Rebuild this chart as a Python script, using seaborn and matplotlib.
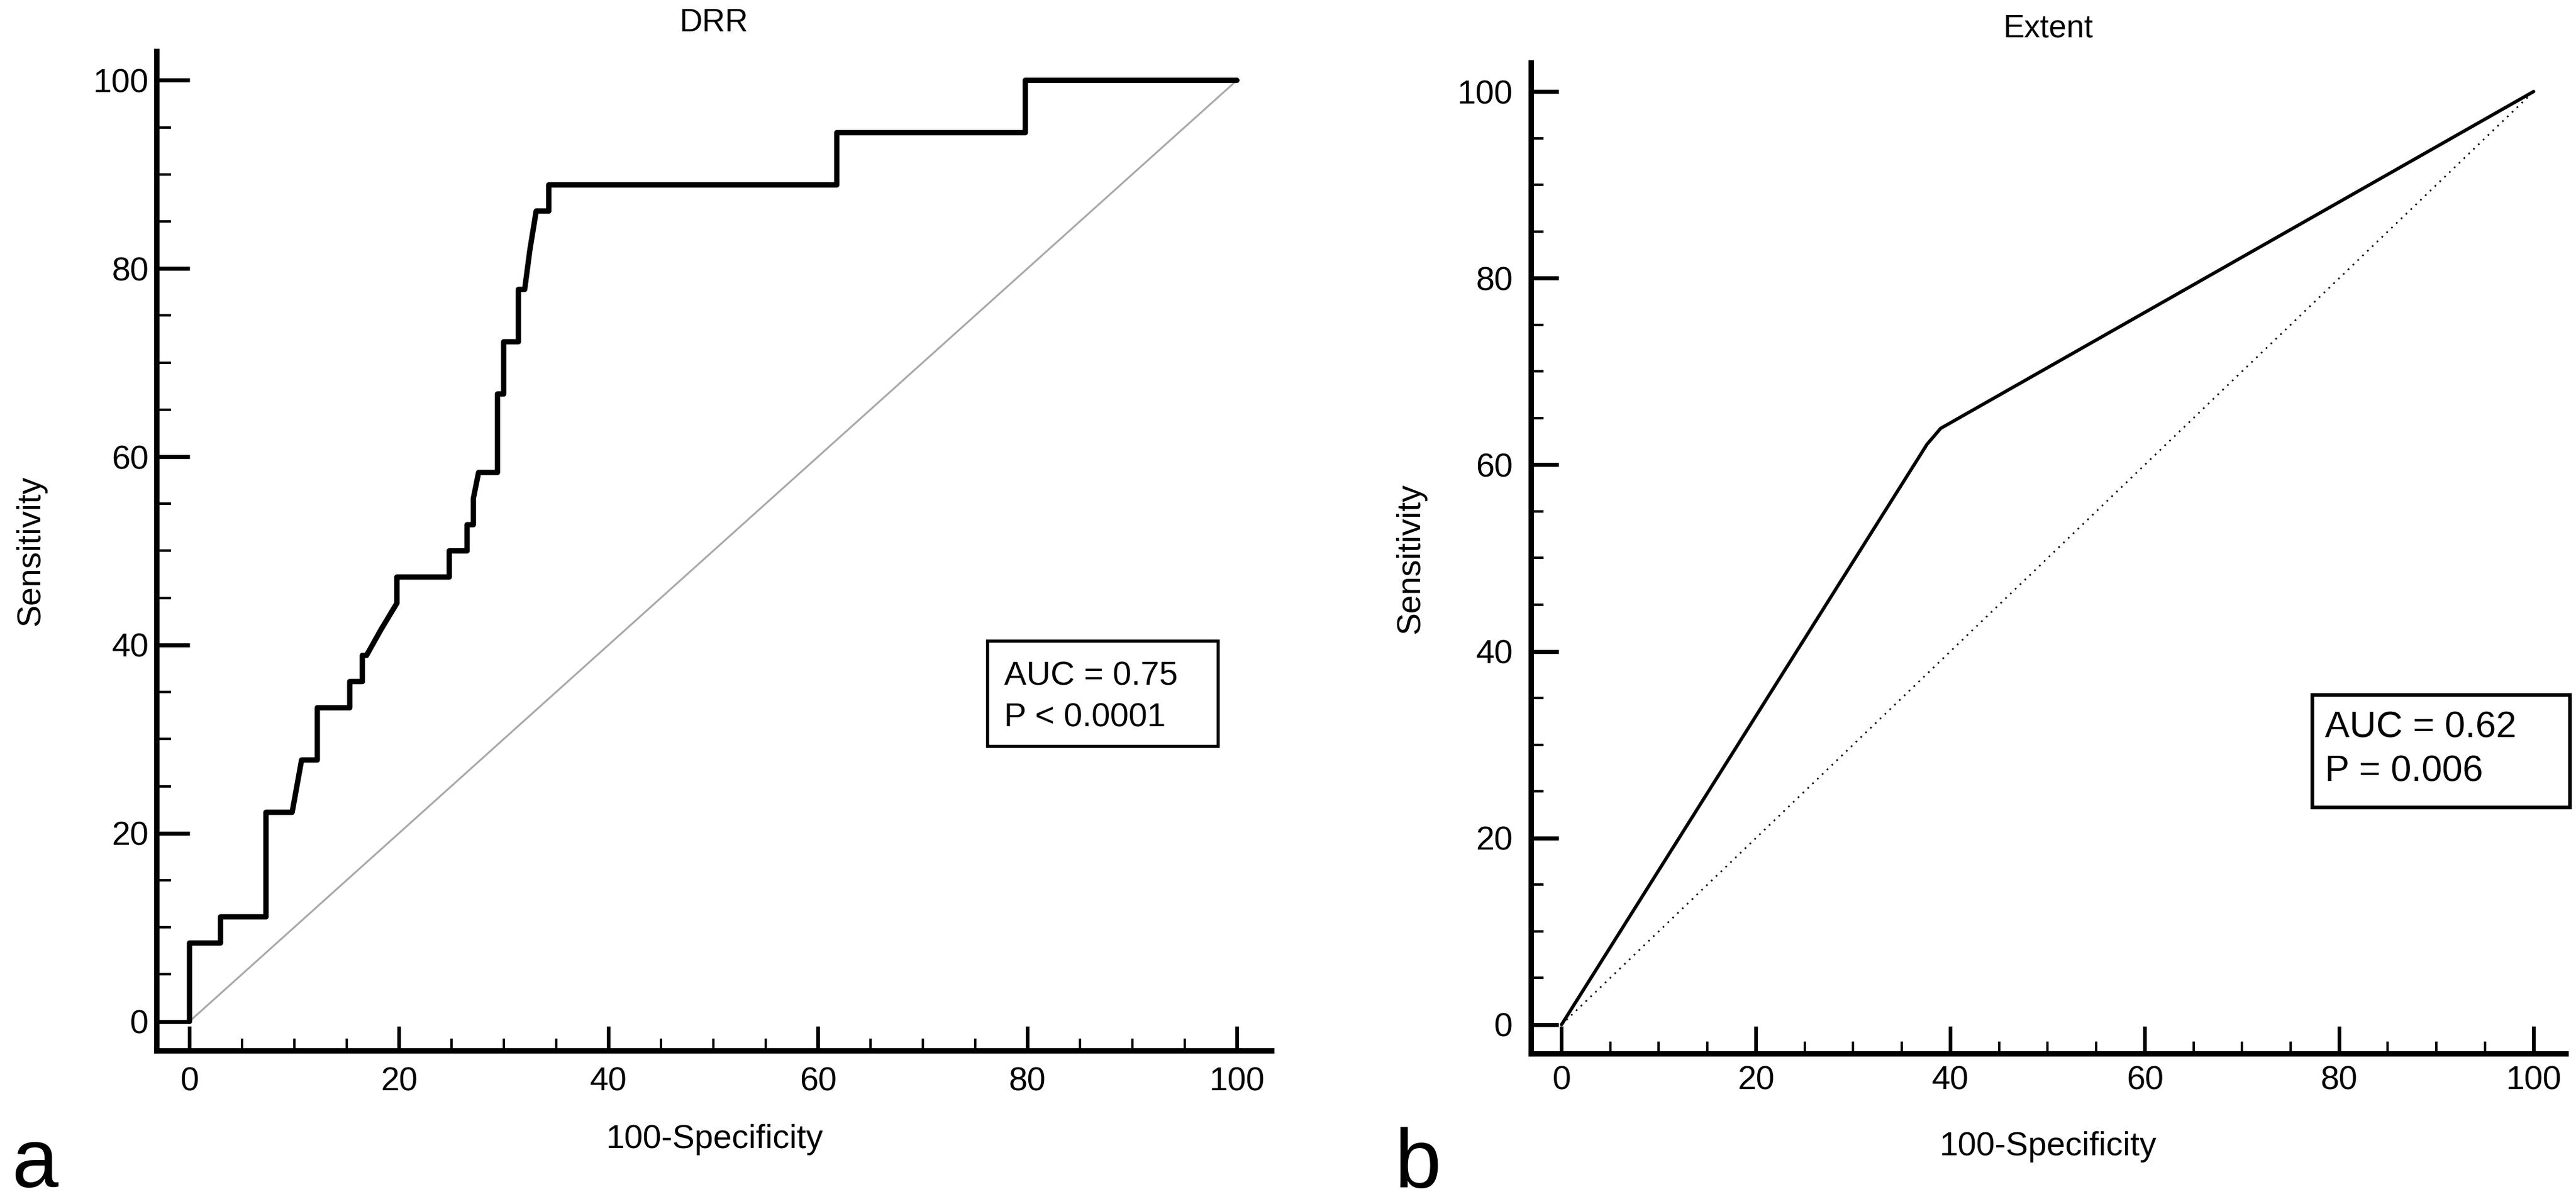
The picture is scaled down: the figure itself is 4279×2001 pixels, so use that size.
import matplotlib
matplotlib.use("Agg")
import matplotlib.pyplot as plt
from matplotlib.patches import Rectangle
from matplotlib.ticker import MultipleLocator
import seaborn as sns

# ROC curve points (100-Specificity, Sensitivity)
drr_fpr = [0, 0, 2.96, 2.96, 7.3, 7.3, 9.8, 10.7, 12.2, 12.2,
           15.3, 15.3, 16.5, 16.5, 16.9, 18.3, 19.8, 19.8, 24.8, 24.8,
           26.5, 26.5, 27.1, 27.1, 27.6, 29.4, 29.4, 30.0, 30.0, 31.4,
           31.4, 32.0, 32.5, 33.1, 34.3, 34.3, 61.8, 61.8, 79.8, 79.8, 100]
drr_tpr = [0, 8.33, 8.33, 11.11, 11.11, 22.22, 22.22, 27.78, 27.78, 33.33,
           33.33, 36.11, 36.11, 38.89, 38.89, 41.67, 44.44, 47.22, 47.22, 50.0,
           50.0, 52.78, 52.78, 55.56, 58.33, 58.33, 66.67, 66.67, 72.22, 72.22,
           77.78, 77.78, 82.0, 86.11, 86.11, 88.89, 88.89, 94.44, 94.44, 100, 100]

extent_fpr = [0, 37.6, 39.0, 100]
extent_tpr = [0, 62.2, 63.9, 100]

chance = [0, 100]
major_ticks = [0, 20, 40, 60, 80, 100]

W, H, DPI = 4279, 2001, 200

sns.set_theme(style="white")
plt.rcParams["font.family"] = ["Liberation Sans", "DejaVu Sans"]
plt.rcParams["text.color"] = "black"
plt.rcParams["xtick.color"] = "black"
plt.rcParams["ytick.color"] = "black"
plt.rcParams["xtick.labelcolor"] = "black"
plt.rcParams["ytick.labelcolor"] = "black"

fig = plt.figure(figsize=(W / DPI, H / DPI), dpi=DPI)


def fx(px):
    return px / W


def fy(py):
    return 1 - py / H


def style_axes(ax, ylen, yminor, xlen, xminor, ypad, xpad):
    ax.set_xlim(-3.15, 103.3)
    ax.set_ylim(-3.1, 103.1)
    ax.set_xticks(major_ticks)
    ax.set_yticks(major_ticks)
    ax.xaxis.set_minor_locator(MultipleLocator(5))
    ax.yaxis.set_minor_locator(MultipleLocator(5))
    for side in ["top", "right"]:
        ax.spines[side].set_visible(False)
    for side in ["left", "bottom"]:
        ax.spines[side].set_linewidth(3.2)
        ax.spines[side].set_color("black")
    ax.tick_params(which="both", bottom=True, left=True, top=False, right=False)
    ax.tick_params(axis="y", which="major", direction="in", length=ylen,
                   width=2.4, color="black", labelcolor="black", labelsize=20, pad=ypad)
    ax.tick_params(axis="y", which="minor", direction="in", length=yminor,
                   width=1.5, color="black")
    ax.tick_params(axis="x", which="major", direction="in", length=xlen,
                   width=2.2, color="black", labelcolor="black", labelsize=20, pad=xpad)
    ax.tick_params(axis="x", which="minor", direction="in", length=xminor,
                   width=1.4, color="black")
    ax.set_xlabel("")
    ax.set_ylabel("")
    ax.set_facecolor("white")


# panel a: DRR
ax_a = fig.add_axes([fx(260), fy(1746), fx(2112 - 260), (1746 - 85) / H])
sns.lineplot(x=chance, y=chance, ax=ax_a, color="#a8a8a8", linewidth=1.1)
sns.lineplot(x=drr_fpr, y=drr_tpr, ax=ax_a, sort=False, estimator=None,
             color="black", linewidth=3.2)
style_axes(ax_a, 19.8, 8.6, 14.4, 7.2, 4.7, 9.5)

# panel b: Extent
ax_b = fig.add_axes([fx(2543), fy(1751), fx(4262 - 2543), (1751 - 104) / H])
sns.lineplot(x=chance, y=chance, ax=ax_b, color="black", linewidth=1.0,
             linestyle=(0, (1, 3)))
sns.lineplot(x=extent_fpr, y=extent_tpr, ax=ax_b, sort=False, estimator=None,
             color="black", linewidth=2.0)
style_axes(ax_b, 16.6, 7.6, 16.2, 7.2, 10.8, 7.0)

# titles, axis labels, panel letters
fig.text(fx(1186), fy(52), "DRR", ha="center", va="baseline", fontsize=19)
fig.text(fx(3402), fy(62), "Extent", ha="center", va="baseline", fontsize=19)

fig.text(fx(1187), fy(1908), "100-Specificity", ha="center", va="baseline", fontsize=20)
fig.text(fx(3402), fy(1920), "100-Specificity", ha="center", va="baseline", fontsize=20)

fig.text(fx(52), fy(915), "Sensitivity", rotation=90, ha="center", va="center", fontsize=20)
fig.text(fx(2344), fy(928), "Sensitivity", rotation=90, ha="center", va="center", fontsize=20)

fig.text(fx(19), fy(1973), "a", ha="left", va="baseline", fontsize=50)
fig.text(fx(2316), fy(1974), "b", ha="left", va="baseline", fontsize=50)

# AUC boxes
fig.add_artist(Rectangle((fx(1640), fy(1240)), fx(2023 - 1640), (1240 - 1065) / H,
                         transform=fig.transFigure, fill=False,
                         edgecolor="black", linewidth=1.9))
fig.text(fx(1668), fy(1138), "AUC = 0.75", ha="left", va="baseline", fontsize=20)
fig.text(fx(1668), fy(1208), "P < 0.0001", ha="left", va="baseline", fontsize=20)

fig.add_artist(Rectangle((fx(3841), fy(1342)), fx(4269 - 3841), (1342 - 1155) / H,
                         transform=fig.transFigure, fill=False,
                         edgecolor="black", linewidth=2.2))
fig.text(fx(3862), fy(1226), "AUC = 0.62", ha="left", va="baseline", fontsize=22)
fig.text(fx(3862), fy(1298), "P = 0.006", ha="left", va="baseline", fontsize=22)

fig.savefig("out.png", dpi=DPI, facecolor="white")
